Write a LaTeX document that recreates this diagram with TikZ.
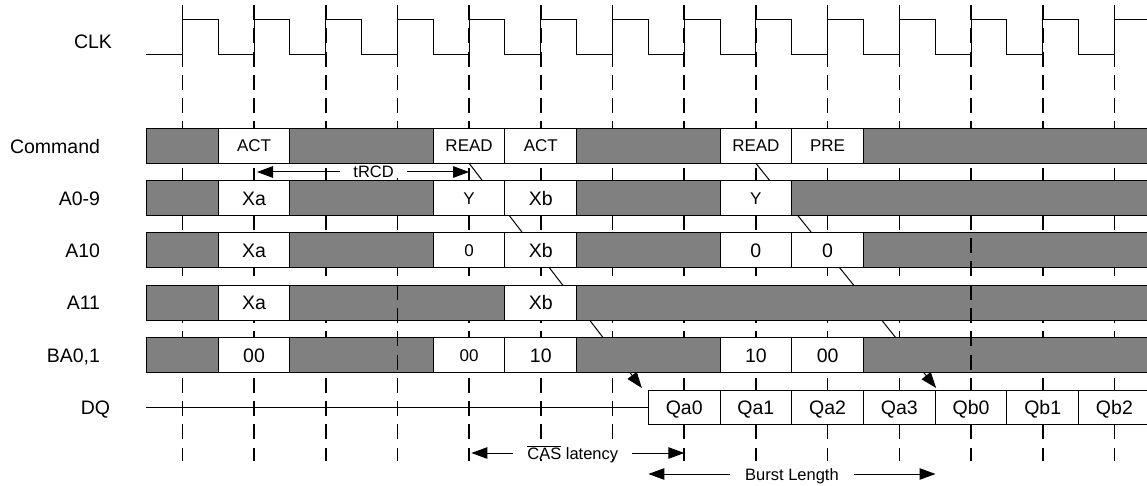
\documentclass[tikz,border=0pt]{standalone}
\usepackage{fontspec}
\setmainfont{Liberation Sans}
\usetikzlibrary{arrows.meta,backgrounds}
\definecolor{barg}{RGB}{128,128,128}
\newcommand\rowcells[3]{%
  \foreach \a/\b/\s/\t [count=\i] in {#3} {
    \pgfmathsetmacro\w{71.7*(\b-(\a))}
    \pgfmathsetmacro\c{218.15+71.7*(\a+\b)/2}
    \node[\s, minimum width=\w pt] (#1\i) at (\c,#2) {\t};
  }}
\begin{document}
\begin{tikzpicture}[x=1pt,y=-1pt,
  every node/.style={inner sep=0pt, outer sep=0pt},
  cellbase/.style={draw=black, line width=1pt, minimum height=35pt},
  gcell/.style={cellbase, fill=barg},
  wcell/.style={cellbase, fill=white, font=\fontsize{19.5}{20}\selectfont, text height=14pt, text depth=0pt},
  wcellM/.style={cellbase, fill=white, font=\fontsize{17}{18}\selectfont, text height=12.2pt, text depth=0pt},
  dqcell/.style={wcell, minimum height=34.3pt},
  lbl/.style={font=\fontsize{19.5}{20}\selectfont, text height=14pt, text depth=0pt, anchor=east},
  albl/.style={font=\fontsize{16.5}{18}\selectfont, text height=12pt, text depth=0pt, fill=white},
  clkdash/.style={line width=1.6pt, dash pattern=on 15pt off 8.3pt},
  clkwave/.style={line width=1pt},
  tip/.style={-{Triangle[length=16pt,width=11.5pt]}, line width=1pt},
  biarrow/.style={{Triangle[length=16pt,width=11.5pt]}-{Triangle[length=16pt,width=11.5pt]}, line width=1pt},
]
\useasboundingbox (0,0) rectangle (1147,486);

% labels
\node[lbl] (lclk) at (112,42) {CLK};
\node[lbl] (lcmd) at (100,147) {Command};
\node[lbl] (la09) at (100,198.1) {A0-9};
\node[lbl] (la10) at (100,250.4) {A10};
\node[lbl] (la11) at (100,302.7) {A11};
\node[lbl] (lba) at (100,355.0) {BA0,1};
\node[lbl] (ldq) at (110,407.7) {DQ};

% clock
\draw[clkwave] (146,55)
  \foreach \i in {0,...,12} { -- ({182.3+71.7*\i},55) -- ({182.3+71.7*\i},20) -- ({218.15+71.7*\i},20) -- ({218.15+71.7*\i},55) }
  -- (1114.4,55) -- (1114.4,20) -- (1150,20);

% rows of cells
\rowcells{cmd}{145.8}{-1/0/gcell/{}, 0/1/wcellM/ACT, 1/3/gcell/{}, 3/4/wcellM/READ, 4/5/wcellM/ACT, 5/7/gcell/{}, 7/8/wcellM/READ, 8/9/wcellM/PRE, 9/13/gcell/{}}
\rowcells{aa}{198.1}{-1/0/gcell/{}, 0/1/wcell/Xa, 1/3/gcell/{}, 3/4/wcellM/Y, 4/5/wcell/Xb, 5/7/gcell/{}, 7/8/wcellM/Y, 8/13/gcell/{}}
\rowcells{ab}{250.4}{-1/0/gcell/{}, 0/1/wcell/Xa, 1/3/gcell/{}, 3/4/wcellM/0, 4/5/wcell/Xb, 5/7/gcell/{}, 7/8/wcell/0, 8/9/wcell/0, 9/13/gcell/{}}
\rowcells{ac}{302.7}{-1/0/gcell/{}, 0/1/wcell/Xa, 1/4/gcell/{}, 4/5/wcell/Xb, 5/13/gcell/{}}
\rowcells{ba}{355.0}{-1/0/gcell/{}, 0/1/wcell/00, 1/3/gcell/{}, 3/4/wcellM/00, 4/5/wcell/10, 5/7/gcell/{}, 7/8/wcell/10, 8/9/wcell/00, 9/13/gcell/{}}
\rowcells{dq}{407.2}{6/7/dqcell/Qa0, 7/8/dqcell/Qa1, 8/9/dqcell/Qa2, 9/10/dqcell/Qa3, 10/11/dqcell/Qb0, 11/12/dqcell/Qb1, 12/13/dqcell/Qb2}

% DQ line
\coordinate (dqstart) at (146,407.7);
\draw[line width=1pt] (dqstart) -- (dqstart -| dq1.west);

\begin{pgfonlayer}{background}
  \foreach \i in {0,...,13} {
    \draw[clkdash] ({182.3+71.7*\i},5) -- ({182.3+71.7*\i},461);
  }
  \draw[tip] (cmd4.south) -- ([xshift=-6.5pt,yshift=2pt]dq1.north west);
  \draw[tip] (cmd7.south) -- ([xshift=1pt,yshift=2pt]dq5.north west);
\end{pgfonlayer}

% dashed lines visible over lower bars
\begin{scope}
  \clip (0,280) rectangle (1147,376);
  \draw[clkdash] (397.4,5) -- (397.4,461);
\end{scope}
\begin{scope}
  \clip (0,228) rectangle (1147,376);
  \draw[clkdash] (971.0,5) -- (971.0,461);
\end{scope}

% tRCD
\draw[biarrow] ([xshift=3pt,yshift=-8.7pt]cmd2.south) -- node[albl, pos=0.55, inner xsep=13pt] (trcd) {tRCD} ([yshift=-8.7pt]cmd4.south);

% CAS latency
\coordinate (casL) at (471.4,453);
\coordinate (casR) at (684.3,453);
\draw[biarrow] (casL) -- node[albl, pos=0.476, inner xsep=14pt] (cas) {$\overline{\mbox{CAS}}$ latency} (casR);

% Burst Length
\coordinate (blL) at (648.4,474);
\coordinate (blR) at (935.5,474);
\draw[biarrow] (blL) -- node[albl, pos=0.5, inner xsep=15pt] (bl) {Burst Length} (blR);
\end{tikzpicture}
\end{document}
